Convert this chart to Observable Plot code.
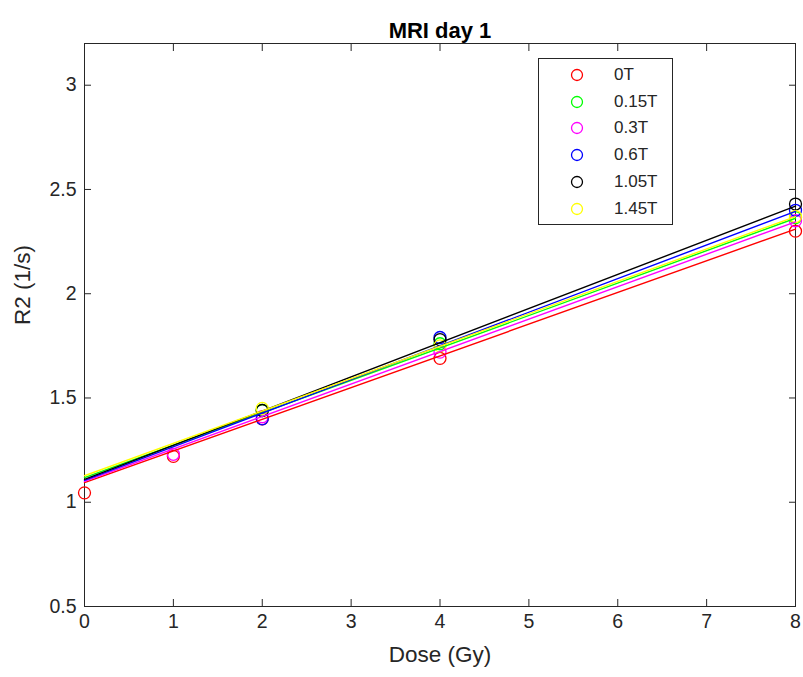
<!DOCTYPE html>
<html><head><meta charset="utf-8">
<script src="https://cdn.jsdelivr.net/npm/d3@7"></script>
<script src="https://cdn.jsdelivr.net/npm/@observablehq/plot@0.6"></script>
<style>
body{margin:0;background:#fff;font-family:"Liberation Sans",Arial,sans-serif;}
#wrap{position:relative;width:803px;height:677px;}
#legend{position:absolute;left:538px;top:58px;width:135px;height:167px;border:1px solid #262626;background:#fff;box-sizing:border-box;}
.row{position:absolute;left:0;height:20px;width:130px;}
.row svg{position:absolute;left:31px;top:3px;}
.row span{position:absolute;left:75px;top:0;font-size:17px;line-height:20px;color:#262626;}
</style></head><body><div id="wrap"><div id="legend"></div></div>
<script>
// Series (field strength) and their colours
const series = ["0T", "0.15T", "0.3T", "0.6T", "1.05T", "1.45T"];
const colors = ["#ff0000", "#00ff00", "#ff00ff", "#0000ff", "#000000", "#ffff00"];

// Measured points per series (dose in Gy, R2 in 1/s)
const dose_0T = [0, 1, 2, 4, 8];
const r2_0T = [1.045, 1.22, 1.40, 1.69, 2.30];
const dose_015T = [2, 4, 8];
const r2_015T = [1.44, 1.76, 2.365];
const dose_03T = [1, 2, 4, 8];
const r2_03T = [1.23, 1.41, 1.72, 2.35];
const dose_06T = [2, 4, 8];
const r2_06T = [1.40, 1.79, 2.40];
const dose_105T = [2, 4, 8];
const r2_105T = [1.44, 1.78, 2.43];
const dose_145T = [2, 4, 8];
const r2_145T = [1.45, 1.75, 2.37];

// Linear fit lines: value at dose 0 and at dose 8
const fitDoses = [0, 8];
const fitAt0 = [1.094, 1.118, 1.100, 1.105, 1.110, 1.127];
const fitAt8 = [2.310, 2.362, 2.345, 2.395, 2.420, 2.370];

// Axis ticks
const xTicks = [0, 1, 2, 3, 4, 5, 6, 7, 8];
const yTicks = [0.5, 1, 1.5, 2, 2.5, 3];

const pointSets = [
  [dose_0T, r2_0T], [dose_015T, r2_015T], [dose_03T, r2_03T],
  [dose_06T, r2_06T], [dose_105T, r2_105T], [dose_145T, r2_145T]
];
const points = pointSets.flatMap(([ds, rs], i) => ds.map((d, j) => ({series: series[i], dose: d, r2: rs[j]})));
const fits = series.flatMap((s, i) => fitDoses.map((d, j) => ({series: s, dose: d, r2: j === 0 ? fitAt0[i] : fitAt8[i]})));

const font = "Liberation Sans, Arial, sans-serif";
const ink = "#262626";

const chart = Plot.plot({
  width: 803, height: 677,
  marginLeft: 84, marginRight: 8, marginTop: 43, marginBottom: 71,
  style: {fontFamily: font, background: "#fff", color: ink},
  x: {domain: [0, 8], label: null},
  y: {domain: [0.5, 3.2], label: null},
  color: {domain: series, range: colors},
  marks: [
    Plot.frame({stroke: ink, strokeWidth: 1}),
    Plot.axisX(xTicks, {anchor: "bottom", tickSize: 0, tickPadding: 8, fontSize: 19.5, color: ink, label: null}),
    Plot.axisX(xTicks, {anchor: "bottom", tickSize: -7, tickFormat: () => "", label: null, stroke: ink}),
    Plot.axisX(xTicks, {anchor: "top", tickSize: -7, tickFormat: () => "", label: null, stroke: ink}),
    Plot.axisY(yTicks, {anchor: "left", tickSize: 0, tickPadding: 8, fontSize: 19.5, color: ink, label: null, tickFormat: d => String(d)}),
    Plot.axisY(yTicks, {anchor: "left", tickSize: -7, tickFormat: () => "", label: null, stroke: ink}),
    Plot.axisY(yTicks, {anchor: "right", tickSize: -7, tickFormat: () => "", label: null, stroke: ink}),
    Plot.dot(points, {x: "dose", y: "r2", stroke: "series", r: 6, strokeWidth: 1.3}),
    Plot.line(fits, {x: "dose", y: "r2", z: "series", stroke: "series", strokeWidth: 1.4}),
    Plot.text(["MRI day 1"], {frameAnchor: "top", dy: -21, fontSize: 22, fontWeight: "bold", fill: "#000"}),
    Plot.text(["Dose (Gy)"], {frameAnchor: "bottom", dy: 55, fontSize: 22.5, fill: ink}),
    Plot.text(["R2 (1/s)"], {frameAnchor: "left", dx: -62, rotate: -90, fontSize: 22.5, fill: ink})
  ]
});
document.getElementById("wrap").prepend(chart);

// Legend
const legend = document.getElementById("legend");
const rowCenters = [16, 42.5, 69, 96, 122.5, 149.5];
series.forEach((s, i) => {
  const row = document.createElement("div");
  row.className = "row";
  row.style.top = (rowCenters[i] - 10) + "px";
  row.innerHTML = `<svg width="14" height="14"><circle cx="7" cy="7" r="5.5" fill="none" stroke="${colors[i]}" stroke-width="1.3"/></svg><span>${s}</span>`;
  legend.appendChild(row);
});
</script>
</body></html>
